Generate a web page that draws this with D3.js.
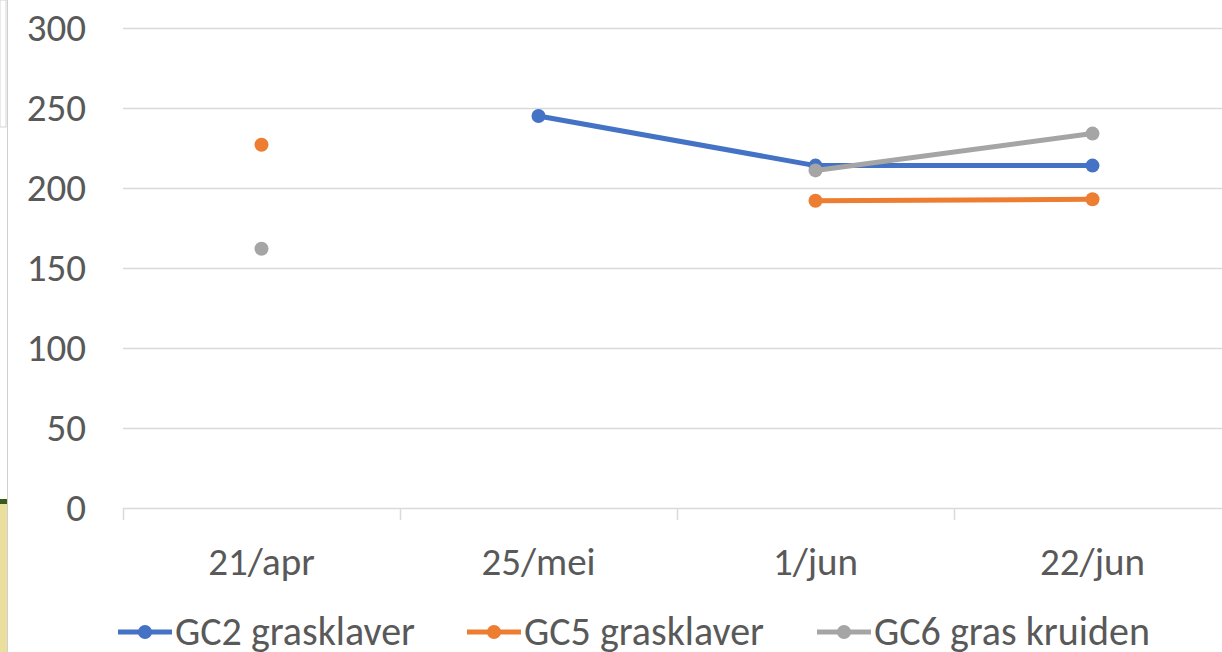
<!DOCTYPE html>
<html>
<head>
<meta charset="utf-8">
<script src="https://cdn.jsdelivr.net/npm/d3@7"></script>
<style>
  body { margin: 0; background: #fff; }
  svg { display: block; font-family: Calibri, Carlito, "Liberation Sans", sans-serif; }
</style>
</head>
<body>
<svg id="chart" width="1222" height="652"></svg>
<script>
const categories = ["21/apr", "25/mei", "1/jun", "22/jun"];
const seriesNames = ["GC2 grasklaver", "GC5 grasklaver", "GC6 gras kruiden"];
const seriesColors = ["#4472c4", "#ed7d31", "#a5a5a5"];
const gc2 = [null, 245, 214, 214];
const gc5 = [227, null, 192, 193];
const gc6 = [162, null, 211, 234];
const yTicks = [0, 50, 100, 150, 200, 250, 300];

const svg = d3.select("#chart");
const margin = {left: 123, top: 28, bottom: 144};
const W = 1222, H = 652;

// bits of the neighbouring window visible at the left edge
svg.append("rect").attr("x", 0).attr("y", 0).attr("width", 6).attr("height", 127)
    .attr("fill", "#fff").attr("stroke", "#d4d4d4");
svg.append("rect").attr("x", 0).attr("y", 503).attr("width", 7).attr("height", 149)
    .attr("fill", "#ebdf9e");
svg.append("rect").attr("x", 0).attr("y", 499).attr("width", 7).attr("height", 5)
    .attr("fill", "#3a5a1e");
svg.append("line").attr("x1", 7.5).attr("x2", 7.5).attr("y1", 0).attr("y2", H)
    .attr("stroke", "#d0d0d0").attr("stroke-width", 1);

const x = d3.scaleBand().domain(categories).range([margin.left, margin.left + 4 * 277]);
const y = d3.scaleLinear().domain([0, 300]).range([H - margin.bottom, margin.top]);

// gridlines
svg.append("g")
  .selectAll("line")
  .data(yTicks.filter(d => d > 0))
  .join("line")
    .attr("x1", margin.left).attr("x2", W)
    .attr("y1", d => Math.round(y(d)) + 0.5).attr("y2", d => Math.round(y(d)) + 0.5)
    .attr("stroke", "#d9d9d9").attr("stroke-width", 1.5);

// y labels
svg.append("g")
  .selectAll("text")
  .data(yTicks)
  .join("text")
    .attr("x", 86).attr("y", d => y(d))
    .attr("dy", "0.33em")
    .attr("text-anchor", "end")
    .attr("fill", "#595959")
    .style("font-size", "39px")
    .text(d => d);

// x axis with category ticks
const xAxis = svg.append("g");
xAxis.append("line")
    .attr("x1", margin.left).attr("x2", W)
    .attr("y1", y(0) + 0.5).attr("y2", y(0) + 0.5)
    .attr("stroke", "#d9d9d9").attr("stroke-width", 1.5);
xAxis.selectAll("line.tick")
  .data(categories)
  .join("line")
    .attr("class", "tick")
    .attr("x1", d => Math.round(x(d)) + 0.5).attr("x2", d => Math.round(x(d)) + 0.5)
    .attr("y1", y(0)).attr("y2", y(0) + 12)
    .attr("stroke", "#d9d9d9").attr("stroke-width", 1.5);
xAxis.selectAll("text")
  .data(categories)
  .join("text")
    .attr("x", d => x(d) + x.bandwidth() / 2)
    .attr("y", 562)
    .attr("dy", "0.33em")
    .attr("text-anchor", "middle")
    .attr("fill", "#595959")
    .style("font-size", "39px")
    .text(d => d);

// series
const allSeries = [gc2, gc5, gc6];
const line = d3.line()
    .defined(d => d.v != null)
    .x(d => x(d.c) + x.bandwidth() / 2)
    .y(d => y(d.v));

allSeries.forEach((vals, i) => {
  const pts = vals.map((v, j) => ({c: categories[j], v: v}));
  const g = svg.append("g");
  g.append("path")
      .datum(pts)
      .attr("d", line)
      .attr("fill", "none")
      .attr("stroke", seriesColors[i])
      .attr("stroke-width", 5)
      .attr("stroke-linejoin", "round");
  g.selectAll("circle")
    .data(pts.filter(d => d.v != null))
    .join("circle")
      .attr("cx", d => x(d.c) + x.bandwidth() / 2)
      .attr("cy", d => y(d.v))
      .attr("r", 7)
      .attr("fill", seriesColors[i]);
});

// legend
const legendX = [118, 467, 817];
const legend = svg.append("g");
seriesNames.forEach((name, i) => {
  const lg = legend.append("g").attr("transform", "translate(" + legendX[i] + ",632)");
  lg.append("line").attr("x1", 0).attr("x2", 54).attr("y1", 0).attr("y2", 0)
      .attr("stroke", seriesColors[i]).attr("stroke-width", 5);
  lg.append("circle").attr("cx", 27).attr("cy", 0).attr("r", 7).attr("fill", seriesColors[i]);
  lg.append("text").attr("x", 57).attr("y", 0).attr("dy", "0.33em")
      .attr("fill", "#595959").style("font-size", "40px").text(name);
});
</script>
</body>
</html>
